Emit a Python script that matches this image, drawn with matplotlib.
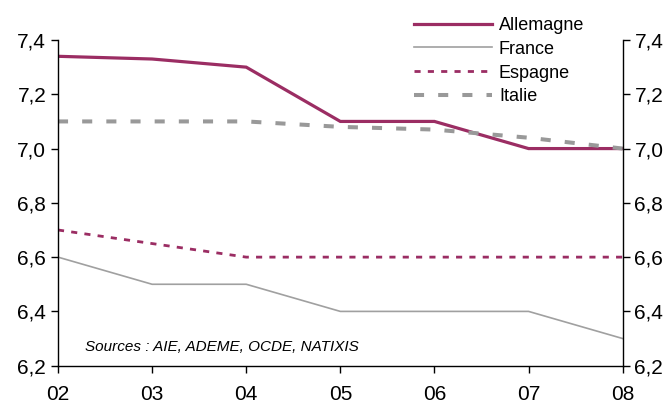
import matplotlib.pyplot as plt
from matplotlib.ticker import FuncFormatter

annees = ['02', '03', '04', '05', '06', '07', '08']
allemagne = [7.34, 7.33, 7.30, 7.10, 7.10, 7.00, 7.00]
france = [6.60, 6.50, 6.50, 6.40, 6.40, 6.40, 6.30]
espagne = [6.70, 6.65, 6.60, 6.60, 6.60, 6.60, 6.60]
italie = [7.10, 7.10, 7.10, 7.08, 7.07, 7.04, 7.00]

plt.rcParams['font.family'] = ['Liberation Sans', 'DejaVu Sans']

fig = plt.figure(figsize=(6.72, 4.03), dpi=100)
ax = fig.add_axes([0.0863, 0.0926, 0.8403, 0.8081])
x = list(range(len(annees)))

ax.plot(x, allemagne, color='#9b2d63', lw=2.3, label='Allemagne', solid_joinstyle='miter')
ax.plot(x, france, color='#a0a0a0', lw=1.2, label='France')
ax.plot(x, espagne, color='#9b2d63', lw=2.0, dashes=(2.2, 2.6), label='Espagne')
ax.plot(x, italie, color='#999999', lw=2.9, dashes=(2.5, 3.5), label='Italie')

ax.set_xlim(0, len(annees) - 1)
ax.set_ylim(6.2, 7.4)
ax.set_xticks(x)
ax.set_xticklabels(annees)
ax.set_yticks([6.2, 6.4, 6.6, 6.8, 7.0, 7.2, 7.4])
virgule = FuncFormatter(lambda v, p: ('%.1f' % v).replace('.', ','))
ax.yaxis.set_major_formatter(virgule)

ax.spines['top'].set_visible(False)
for s in ['left', 'right', 'bottom']:
    ax.spines[s].set_linewidth(1.0)
ax.tick_params(axis='both', direction='out', length=5, width=1, labelsize=15)
ax.tick_params(axis='y', which='both', right=True, labelright=True)
ax.tick_params(axis='x', pad=9)

ax.text(0.29, 6.27, 'Sources : AIE, ADEME, OCDE, NATIXIS', style='italic',
        fontsize=11, va='center')

leg = fig.legend(loc='upper left', bbox_to_anchor=(0.600, 0.985), frameon=False,
                 fontsize=13, handlelength=4.3, handletextpad=0.4,
                 labelspacing=0.38, borderaxespad=0.2)

fig.savefig('out.png', dpi=100)
